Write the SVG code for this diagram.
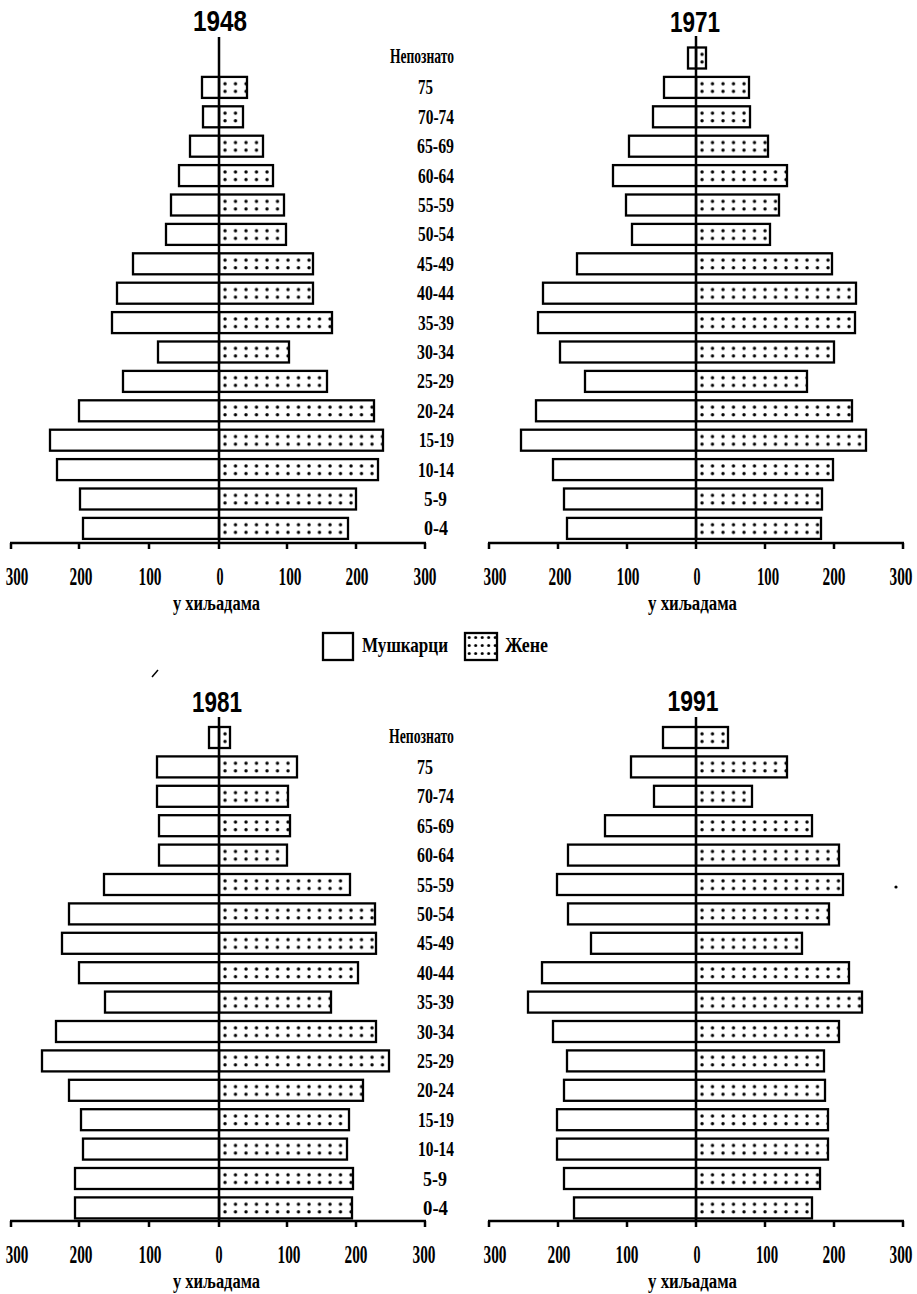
<svg xmlns="http://www.w3.org/2000/svg" width="917" height="1294" viewBox="0 0 917 1294">
<style>
.m{fill:#fff;stroke:#000;stroke-width:2.3}
.f{stroke:#000;stroke-width:2.3}
.ax{stroke:#000;stroke-width:2.5;fill:none}
.title{font-family:"Liberation Sans",Arial,sans-serif;font-weight:bold;font-size:29px;text-anchor:middle;fill:#000}
.age{font-family:"Liberation Serif","Times New Roman",serif;font-weight:bold;font-size:22px;fill:#000}
.tick{font-family:"Liberation Serif","Times New Roman",serif;font-weight:bold;font-size:26px;text-anchor:middle;fill:#000}
.unit{font-family:"Liberation Serif","Times New Roman",serif;font-weight:bold;font-size:20px;text-anchor:middle;fill:#000}
.leg{font-family:"Liberation Serif","Times New Roman",serif;font-weight:bold;font-size:21px;fill:#000}
</style>
<defs>
<pattern id="pTL" patternUnits="userSpaceOnUse" x="221" y="47.5" width="10.5" height="29.4"><rect width="10.5" height="29.4" fill="#fff"/><circle cx="4" cy="6.8" r="1.7" fill="#000"/><circle cx="4" cy="14.4" r="1.7" fill="#000"/></pattern>
<pattern id="pTR" patternUnits="userSpaceOnUse" x="698" y="47.5" width="10.5" height="29.4"><rect width="10.5" height="29.4" fill="#fff"/><circle cx="4" cy="6.8" r="1.7" fill="#000"/><circle cx="4" cy="14.4" r="1.7" fill="#000"/></pattern>
<pattern id="pBL" patternUnits="userSpaceOnUse" x="221" y="727" width="10.5" height="29.4"><rect width="10.5" height="29.4" fill="#fff"/><circle cx="4" cy="6.8" r="1.7" fill="#000"/><circle cx="4" cy="14.4" r="1.7" fill="#000"/></pattern>
<pattern id="pBR" patternUnits="userSpaceOnUse" x="698" y="727" width="10.5" height="29.4"><rect width="10.5" height="29.4" fill="#fff"/><circle cx="4" cy="6.8" r="1.7" fill="#000"/><circle cx="4" cy="14.4" r="1.7" fill="#000"/></pattern>
<pattern id="pLeg" patternUnits="userSpaceOnUse" x="466" y="633" width="6.5" height="8"><rect width="6.5" height="8" fill="#fff"/><circle cx="3.2" cy="4.5" r="1.5" fill="#000"/></pattern>
</defs>
<rect width="917" height="1294" fill="#fff"/>

<g id="panel-1948">
<text class="title" x="220" y="31" textLength="54" lengthAdjust="spacingAndGlyphs">1948</text>
<g fill="url(#pTL)" class="f">
<rect x="219" y="76.9" width="28" height="21"/>
<rect x="219" y="106.3" width="24" height="21"/>
<rect x="219" y="135.7" width="44" height="21"/>
<rect x="219" y="165.1" width="54" height="21"/>
<rect x="219" y="194.5" width="65" height="21"/>
<rect x="219" y="223.9" width="67" height="21"/>
<rect x="219" y="253.3" width="94" height="21"/>
<rect x="219" y="282.7" width="94" height="21"/>
<rect x="219" y="312.1" width="113" height="21"/>
<rect x="219" y="341.5" width="70" height="21"/>
<rect x="219" y="370.9" width="108" height="21"/>
<rect x="219" y="400.3" width="155" height="21"/>
<rect x="219" y="429.7" width="164" height="21"/>
<rect x="219" y="459.1" width="159" height="21"/>
<rect x="219" y="488.5" width="137" height="21"/>
<rect x="219" y="517.9" width="129" height="21"/>
</g>
<g class="m">
<rect x="202" y="76.9" width="17" height="21"/>
<rect x="203" y="106.3" width="16" height="21"/>
<rect x="190" y="135.7" width="29" height="21"/>
<rect x="179" y="165.1" width="40" height="21"/>
<rect x="171" y="194.5" width="48" height="21"/>
<rect x="166" y="223.9" width="53" height="21"/>
<rect x="133" y="253.3" width="86" height="21"/>
<rect x="117" y="282.7" width="102" height="21"/>
<rect x="112" y="312.1" width="107" height="21"/>
<rect x="158" y="341.5" width="61" height="21"/>
<rect x="123" y="370.9" width="96" height="21"/>
<rect x="79" y="400.3" width="140" height="21"/>
<rect x="50" y="429.7" width="169" height="21"/>
<rect x="57" y="459.1" width="162" height="21"/>
<rect x="80" y="488.5" width="139" height="21"/>
<rect x="83" y="517.9" width="136" height="21"/>
</g>
</g>

<g id="panel-1971">
<text class="title" x="695" y="32" textLength="50" lengthAdjust="spacingAndGlyphs">1971</text>
<g fill="url(#pTR)" class="f">
<rect x="696" y="47.5" width="10" height="21"/>
<rect x="696" y="76.9" width="53" height="21"/>
<rect x="696" y="106.3" width="54" height="21"/>
<rect x="696" y="135.7" width="72" height="21"/>
<rect x="696" y="165.1" width="91" height="21"/>
<rect x="696" y="194.5" width="83" height="21"/>
<rect x="696" y="223.9" width="74" height="21"/>
<rect x="696" y="253.3" width="136" height="21"/>
<rect x="696" y="282.7" width="160" height="21"/>
<rect x="696" y="312.1" width="159" height="21"/>
<rect x="696" y="341.5" width="138" height="21"/>
<rect x="696" y="370.9" width="111" height="21"/>
<rect x="696" y="400.3" width="156" height="21"/>
<rect x="696" y="429.7" width="170" height="21"/>
<rect x="696" y="459.1" width="137" height="21"/>
<rect x="696" y="488.5" width="126" height="21"/>
<rect x="696" y="517.9" width="125" height="21"/>
</g>
<g class="m">
<rect x="688" y="47.5" width="8" height="21"/>
<rect x="664" y="76.9" width="32" height="21"/>
<rect x="653" y="106.3" width="43" height="21"/>
<rect x="629" y="135.7" width="67" height="21"/>
<rect x="613" y="165.1" width="83" height="21"/>
<rect x="626" y="194.5" width="70" height="21"/>
<rect x="632" y="223.9" width="64" height="21"/>
<rect x="577" y="253.3" width="119" height="21"/>
<rect x="543" y="282.7" width="153" height="21"/>
<rect x="538" y="312.1" width="158" height="21"/>
<rect x="560" y="341.5" width="136" height="21"/>
<rect x="585" y="370.9" width="111" height="21"/>
<rect x="536" y="400.3" width="160" height="21"/>
<rect x="521" y="429.7" width="175" height="21"/>
<rect x="553" y="459.1" width="143" height="21"/>
<rect x="564" y="488.5" width="132" height="21"/>
<rect x="567" y="517.9" width="129" height="21"/>
</g>
</g>

<g id="panel-1981">
<text class="title" x="217" y="712" textLength="50" lengthAdjust="spacingAndGlyphs">1981</text>
<g fill="url(#pBL)" class="f">
<rect x="219" y="727" width="11" height="21"/>
<rect x="219" y="756.4" width="78" height="21"/>
<rect x="219" y="785.8" width="69" height="21"/>
<rect x="219" y="815.2" width="71" height="21"/>
<rect x="219" y="844.6" width="68" height="21"/>
<rect x="219" y="874" width="131" height="21"/>
<rect x="219" y="903.4" width="156" height="21"/>
<rect x="219" y="932.8" width="157" height="21"/>
<rect x="219" y="962.2" width="139" height="21"/>
<rect x="219" y="991.6" width="112" height="21"/>
<rect x="219" y="1021" width="157" height="21"/>
<rect x="219" y="1050.4" width="170" height="21"/>
<rect x="219" y="1079.8" width="144" height="21"/>
<rect x="219" y="1109.2" width="130" height="21"/>
<rect x="219" y="1138.6" width="128" height="21"/>
<rect x="219" y="1168" width="134" height="21"/>
<rect x="219" y="1197.4" width="133" height="21"/>
</g>
<g class="m">
<rect x="209" y="727" width="10" height="21"/>
<rect x="157" y="756.4" width="62" height="21"/>
<rect x="157" y="785.8" width="62" height="21"/>
<rect x="159" y="815.2" width="60" height="21"/>
<rect x="159" y="844.6" width="60" height="21"/>
<rect x="104" y="874" width="115" height="21"/>
<rect x="69" y="903.4" width="150" height="21"/>
<rect x="62" y="932.8" width="157" height="21"/>
<rect x="79" y="962.2" width="140" height="21"/>
<rect x="105" y="991.6" width="114" height="21"/>
<rect x="56" y="1021" width="163" height="21"/>
<rect x="42" y="1050.4" width="177" height="21"/>
<rect x="69" y="1079.8" width="150" height="21"/>
<rect x="81" y="1109.2" width="138" height="21"/>
<rect x="83" y="1138.6" width="136" height="21"/>
<rect x="75" y="1168" width="144" height="21"/>
<rect x="75" y="1197.4" width="144" height="21"/>
</g>
</g>

<g id="panel-1991">
<text class="title" x="693" y="711" textLength="51" lengthAdjust="spacingAndGlyphs">1991</text>
<g fill="url(#pBR)" class="f">
<rect x="696" y="727" width="32" height="21"/>
<rect x="696" y="756.4" width="91" height="21"/>
<rect x="696" y="785.8" width="56" height="21"/>
<rect x="696" y="815.2" width="116" height="21"/>
<rect x="696" y="844.6" width="143" height="21"/>
<rect x="696" y="874" width="147" height="21"/>
<rect x="696" y="903.4" width="133" height="21"/>
<rect x="696" y="932.8" width="106" height="21"/>
<rect x="696" y="962.2" width="153" height="21"/>
<rect x="696" y="991.6" width="166" height="21"/>
<rect x="696" y="1021" width="143" height="21"/>
<rect x="696" y="1050.4" width="128" height="21"/>
<rect x="696" y="1079.8" width="129" height="21"/>
<rect x="696" y="1109.2" width="132" height="21"/>
<rect x="696" y="1138.6" width="132" height="21"/>
<rect x="696" y="1168" width="124" height="21"/>
<rect x="696" y="1197.4" width="116" height="21"/>
</g>
<g class="m">
<rect x="663" y="727" width="33" height="21"/>
<rect x="631" y="756.4" width="65" height="21"/>
<rect x="654" y="785.8" width="42" height="21"/>
<rect x="605" y="815.2" width="91" height="21"/>
<rect x="568" y="844.6" width="128" height="21"/>
<rect x="557" y="874" width="139" height="21"/>
<rect x="568" y="903.4" width="128" height="21"/>
<rect x="591" y="932.8" width="105" height="21"/>
<rect x="542" y="962.2" width="154" height="21"/>
<rect x="528" y="991.6" width="168" height="21"/>
<rect x="553" y="1021" width="143" height="21"/>
<rect x="567" y="1050.4" width="129" height="21"/>
<rect x="564" y="1079.8" width="132" height="21"/>
<rect x="557" y="1109.2" width="139" height="21"/>
<rect x="557" y="1138.6" width="139" height="21"/>
<rect x="564" y="1168" width="132" height="21"/>
<rect x="574" y="1197.4" width="122" height="21"/>
</g>
</g>

<g id="axes" class="ax">
<path d="M219 37V549 M10 543H426 M11 543v6 M79 543v6 M149 543v6 M287 543v6 M356 543v6 M425 543v6"/>
<path d="M696 36V549 M488 543H904 M489 543v6 M558 543v6 M627 543v6 M765 543v6 M834 543v6 M903 543v6"/>
<path d="M219 717V1227 M10 1221H426 M11 1221v6 M79 1221v6 M149 1221v6 M287 1221v6 M356 1221v6 M425 1221v6"/>
<path d="M696 717V1227 M488 1221H904 M489 1221v6 M558 1221v6 M627 1221v6 M765 1221v6 M834 1221v6 M903 1221v6"/>
</g>

<g id="tick-labels">
<text class="tick" transform="translate(17 585) scale(0.58 1)">300</text>
<text class="tick" transform="translate(81 585) scale(0.59 1)">200</text>
<text class="tick" transform="translate(150 585) scale(0.59 1)">100</text>
<text class="tick" transform="translate(220 585) scale(0.54 1)">0</text>
<text class="tick" transform="translate(290 585) scale(0.59 1)">100</text>
<text class="tick" transform="translate(357 585) scale(0.59 1)">200</text>
<text class="tick" transform="translate(425 585) scale(0.59 1)">300</text>
<text class="tick" transform="translate(495 585) scale(0.59 1)">300</text>
<text class="tick" transform="translate(560 585) scale(0.59 1)">200</text>
<text class="tick" transform="translate(628 585) scale(0.59 1)">100</text>
<text class="tick" transform="translate(697 585) scale(0.54 1)">0</text>
<text class="tick" transform="translate(768 585) scale(0.57 1)">100</text>
<text class="tick" transform="translate(834 585) scale(0.59 1)">200</text>
<text class="tick" transform="translate(901 585) scale(0.59 1)">300</text>
<text class="tick" transform="translate(17 1263) scale(0.58 1)">300</text>
<text class="tick" transform="translate(81 1263) scale(0.59 1)">200</text>
<text class="tick" transform="translate(150 1263) scale(0.59 1)">100</text>
<text class="tick" transform="translate(219 1263) scale(0.54 1)">0</text>
<text class="tick" transform="translate(289 1263) scale(0.59 1)">100</text>
<text class="tick" transform="translate(356 1263) scale(0.59 1)">200</text>
<text class="tick" transform="translate(424 1263) scale(0.59 1)">300</text>
<text class="tick" transform="translate(495 1263) scale(0.59 1)">300</text>
<text class="tick" transform="translate(559 1263) scale(0.59 1)">200</text>
<text class="tick" transform="translate(627 1263) scale(0.59 1)">100</text>
<text class="tick" transform="translate(697 1263) scale(0.54 1)">0</text>
<text class="tick" transform="translate(767 1263) scale(0.57 1)">100</text>
<text class="tick" transform="translate(834 1263) scale(0.59 1)">200</text>
<text class="tick" transform="translate(901 1263) scale(0.59 1)">300</text>
<text class="unit" x="216.5" y="610" textLength="87" lengthAdjust="spacingAndGlyphs">у хиљадама</text>
<text class="unit" x="692.5" y="610" textLength="89" lengthAdjust="spacingAndGlyphs">у хиљадама</text>
<text class="unit" x="216.5" y="1288" textLength="87" lengthAdjust="spacingAndGlyphs">у хиљадама</text>
<text class="unit" x="692.5" y="1288" textLength="89" lengthAdjust="spacingAndGlyphs">у хиљадама</text>
</g>

<g id="age-labels-top">
<text class="age" x="390" y="63" textLength="64" lengthAdjust="spacingAndGlyphs">Непознато</text>
<text class="age" x="418" y="94.4" textLength="15" lengthAdjust="spacingAndGlyphs">75</text>
<text class="age" x="418" y="123.8" textLength="36" lengthAdjust="spacingAndGlyphs">70-74</text>
<text class="age" x="417" y="153.2" textLength="37" lengthAdjust="spacingAndGlyphs">65-69</text>
<text class="age" x="418" y="182.6" textLength="36" lengthAdjust="spacingAndGlyphs">60-64</text>
<text class="age" x="418" y="212" textLength="36" lengthAdjust="spacingAndGlyphs">55-59</text>
<text class="age" x="418" y="241.4" textLength="36" lengthAdjust="spacingAndGlyphs">50-54</text>
<text class="age" x="417" y="270.8" textLength="37" lengthAdjust="spacingAndGlyphs">45-49</text>
<text class="age" x="417" y="300.2" textLength="37" lengthAdjust="spacingAndGlyphs">40-44</text>
<text class="age" x="418" y="329.6" textLength="36" lengthAdjust="spacingAndGlyphs">35-39</text>
<text class="age" x="417" y="359" textLength="37" lengthAdjust="spacingAndGlyphs">30-34</text>
<text class="age" x="417" y="388.4" textLength="37" lengthAdjust="spacingAndGlyphs">25-29</text>
<text class="age" x="417" y="417.8" textLength="37" lengthAdjust="spacingAndGlyphs">20-24</text>
<text class="age" x="419" y="447.2" textLength="35" lengthAdjust="spacingAndGlyphs">15-19</text>
<text class="age" x="418" y="476.6" textLength="36" lengthAdjust="spacingAndGlyphs">10-14</text>
<text class="age" x="424" y="506" textLength="23" lengthAdjust="spacingAndGlyphs">5-9</text>
<text class="age" x="424" y="535.4" textLength="24" lengthAdjust="spacingAndGlyphs">0-4</text>
</g>

<g id="age-labels-bottom">
<text class="age" x="389" y="743" textLength="65" lengthAdjust="spacingAndGlyphs">Непознато</text>
<text class="age" x="417" y="773.9" textLength="16" lengthAdjust="spacingAndGlyphs">75</text>
<text class="age" x="417" y="803.3" textLength="37" lengthAdjust="spacingAndGlyphs">70-74</text>
<text class="age" x="417" y="832.7" textLength="37" lengthAdjust="spacingAndGlyphs">65-69</text>
<text class="age" x="417" y="862.1" textLength="37" lengthAdjust="spacingAndGlyphs">60-64</text>
<text class="age" x="417" y="891.5" textLength="37" lengthAdjust="spacingAndGlyphs">55-59</text>
<text class="age" x="417" y="920.9" textLength="37" lengthAdjust="spacingAndGlyphs">50-54</text>
<text class="age" x="417" y="950.3" textLength="37" lengthAdjust="spacingAndGlyphs">45-49</text>
<text class="age" x="417" y="979.7" textLength="37" lengthAdjust="spacingAndGlyphs">40-44</text>
<text class="age" x="417" y="1009.1" textLength="37" lengthAdjust="spacingAndGlyphs">35-39</text>
<text class="age" x="417" y="1038.5" textLength="37" lengthAdjust="spacingAndGlyphs">30-34</text>
<text class="age" x="417" y="1067.9" textLength="37" lengthAdjust="spacingAndGlyphs">25-29</text>
<text class="age" x="417" y="1097.3" textLength="37" lengthAdjust="spacingAndGlyphs">20-24</text>
<text class="age" x="418" y="1126.7" textLength="36" lengthAdjust="spacingAndGlyphs">15-19</text>
<text class="age" x="418" y="1156.1" textLength="36" lengthAdjust="spacingAndGlyphs">10-14</text>
<text class="age" x="423" y="1185.5" textLength="24" lengthAdjust="spacingAndGlyphs">5-9</text>
<text class="age" x="423" y="1214.9" textLength="25" lengthAdjust="spacingAndGlyphs">0-4</text>
</g>

<g id="legend">
<rect x="323" y="633" width="30" height="27" class="m"/>
<text class="leg" x="362" y="652" textLength="86" lengthAdjust="spacingAndGlyphs">Мушкарци</text>
<rect x="465" y="633" width="32" height="27" fill="url(#pLeg)" class="f"/>
<text class="leg" x="505" y="652" textLength="43" lengthAdjust="spacingAndGlyphs">Жене</text>
</g>

<g id="specks">
<path d="M152 677L158 670" stroke="#000" stroke-width="1.5"/>
<circle cx="896" cy="887" r="1.6" fill="#000"/>
</g>
</svg>
